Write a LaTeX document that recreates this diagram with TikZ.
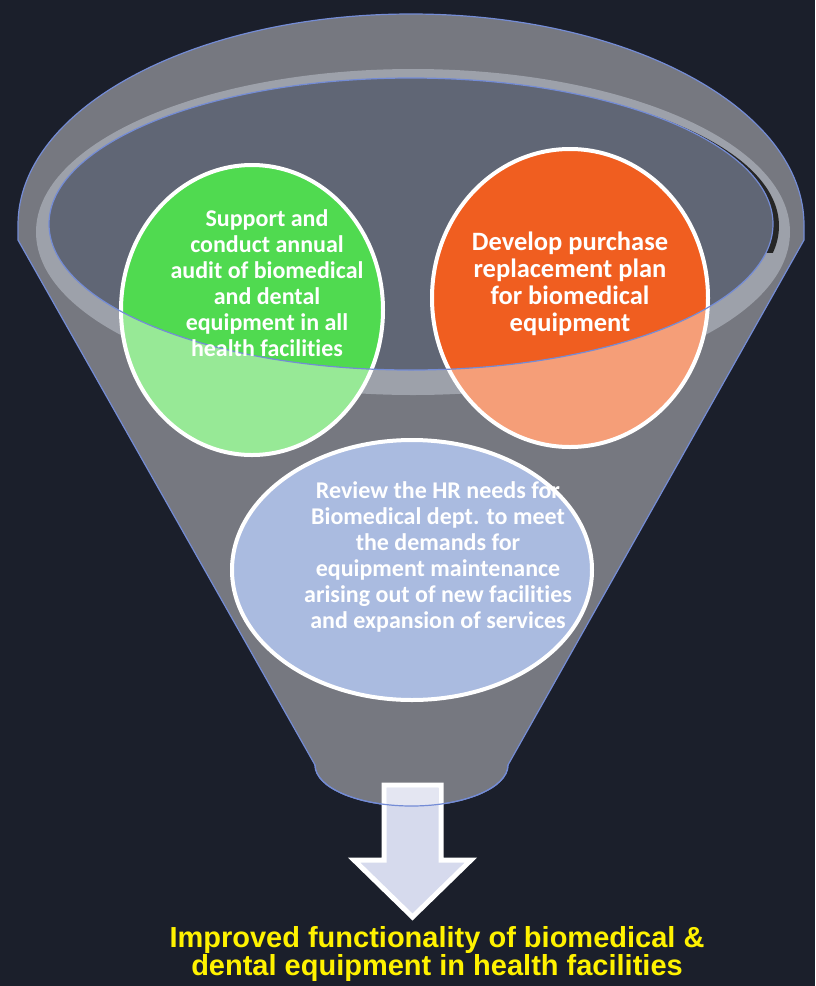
\documentclass[tikz,border=0pt]{standalone}
\usepackage{fontspec}
\setmainfont[Ligatures=NoCommon]{Carlito}
\newfontfamily\arialfont{Liberation Sans}

\definecolor{navy}{RGB}{27,31,43}
\definecolor{funnelgray}{RGB}{118,120,128}
\definecolor{rimgray}{RGB}{157,161,170}
\definecolor{bowl}{RGB}{96,102,117}
\definecolor{rimblue}{RGB}{116,140,214}
\definecolor{greenfull}{RGB}{80,218,80}
\definecolor{greenpale}{RGB}{151,233,150}
\definecolor{orangefull}{RGB}{240,94,32}
\definecolor{orangepale}{RGB}{245,158,120}
\definecolor{bluebubble}{RGB}{170,187,224}
\definecolor{arrowfill}{RGB}{214,218,237}
\definecolor{arrowlight}{RGB}{228,230,242}

\begin{document}
\begin{tikzpicture}[
        x=1pt, y=-1pt,
        bubble/.style={draw=white, line width=4pt},
        bubbletext/.style={text=white, align=center,
                font=\bfseries\fontsize{24}{26}\selectfont},
        rimline/.style={draw=rimblue, line width=1.2pt}
    ]
    % Background
    \fill[navy] (0,0) rectangle (815,986);
    \useasboundingbox (0,0) rectangle (815,986);

    % Funnel
    \path[rimline, fill=funnelgray] (315,765) -- (18,240) -- (18,225)
        arc[start angle=180, end angle=360, x radius=393, y radius=211]
        -- (804,240) -- (508,765)
        arc[start angle=0, end angle=180, x radius=96.5, y radius=41] -- cycle;
    \fill[rimgray] (413,232) ellipse[x radius=377, y radius=163];
    \begin{scope}
        \clip (600,90) rectangle (800,252);
        \fill[black!85] (417,226) ellipse[x radius=362, y radius=146];
    \end{scope}
    \fill[bowl] (411,224) ellipse[x radius=362, y radius=146];

    % Bubbles
    \fill[greenpale] (252,310) ellipse[x radius=131, y radius=145];
    \fill[orangepale] (570,298) ellipse[x radius=138, y radius=149];
    \begin{scope}
        \clip (411,224) ellipse[x radius=362, y radius=146];
        \fill[greenfull] (252,310) ellipse[x radius=131, y radius=145];
        \fill[orangefull] (570,298) ellipse[x radius=138, y radius=149];
    \end{scope}
    \draw[bubble] (252,310) ellipse[x radius=131, y radius=145];
    \draw[bubble] (570,298) ellipse[x radius=138, y radius=149];
    \draw[bubble, fill=bluebubble] (412,570) ellipse[x radius=180, y radius=130];
    \draw[rimline] (411,224) ellipse[x radius=362, y radius=146];

    \node[bubbletext] (support) at (267,283)
        {Support and\\conduct annual\\audit of biomedical\\and dental\\equipment in all\\health facilities};
    \node[bubbletext, font=\bfseries\fontsize{26.5}{27}\selectfont] (develop) at (570,284)
        {Develop purchase\\replacement plan\\for biomedical\\equipment};
    \node[bubbletext] (review) at (438,557)
        {Review the HR needs for\\Biomedical dept. to meet\\the demands for\\equipment maintenance\\arising out of new facilities\\and expansion of services};

    % Arrow
    \draw[draw=white, line width=5pt, line join=miter, fill=arrowfill]
        (384,785) -- (441,785) -- (441,860) -- (471,860) -- (412.5,917)
        -- (354,860) -- (384,860) -- cycle;
    \begin{scope}
        \clip (300,700) -- (520,700) -- (508,765)
            arc[start angle=0, end angle=180, x radius=96.5, y radius=41] -- cycle;
        \fill[arrowlight] (386.5,787.5) rectangle (438.5,860);
    \end{scope}
    \draw[rimline] (508,765)
        arc[start angle=0, end angle=180, x radius=96.5, y radius=41];

    \node[text=yellow, align=center, font=\arialfont\bfseries\fontsize{29}{28}\selectfont]
        (outcome) at (437,954)
        {Improved functionality of biomedical \&\\dental equipment in health facilities};
\end{tikzpicture}
\end{document}
